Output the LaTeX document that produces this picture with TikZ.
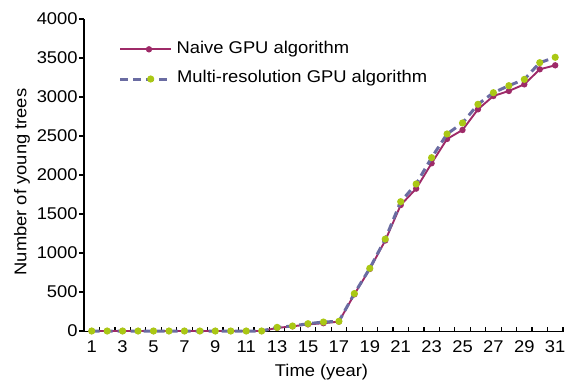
\documentclass[tikz,border=0pt]{standalone}
\usepackage{fontspec}
\setmainfont[FakeStretch=1.08]{Liberation Sans}
\definecolor{naivecol}{RGB}{158,42,104}
\definecolor{multicol}{RGB}{106,108,162}
\definecolor{markcol}{RGB}{170,200,20}
\tikzset{
  axisline/.style={line width=1.4pt, black},
  ticklab/.style={font=\fontsize{17}{18}\selectfont, inner sep=0pt},
  axlab/.style={font=\fontsize{17}{18}\selectfont, inner sep=0pt},
  naiveline/.style={naivecol, line width=1.9pt, line join=round},
  multiline/.style={multicol, line width=3pt, dash pattern=on 8pt off 5pt},
  naivemark/.style={fill=naivecol, draw=none},
  multimark/.style={fill=markcol, draw=none},
}
\begin{document}
\begin{tikzpicture}[x=1pt, y=-1pt]
\useasboundingbox (0,0) rectangle (572,383);

% axes
\draw[axisline] (84,19) -- (84,331.7) -- (563.5,331.7);
% y ticks and labels
\foreach \v [count=\i from 0] in {0,500,...,4000} {
  \pgfmathsetmacro{\yy}{331-\v*0.078}
  \draw[axisline, line width=1.2pt] (79,\yy) -- (84,\yy);
  \node[ticklab, anchor=east] (ytick\i) at (77.8,\yy) {\v};
}
% x ticks at category boundaries
\foreach \k in {0,...,31} {
  \pgfmathsetmacro{\xx}{84+\k*15.45}
  \draw[axisline, line width=1.2pt] (\xx,331.7) -- (\xx,326.5);
}
\foreach \n in {1,3,...,31} {
  \pgfmathsetmacro{\xx}{91.7+(\n-1)*15.45}
  \node[ticklab] (xtick\n) at (\xx,346.5) {\n};
}
\node[axlab] (xlabel) at (321.5,372) {Time (year)};
\node[axlab, rotate=90] (ylabel) at (22,182) {Number of young trees};

% data series: x in years, y in trees
\begin{scope}[shift={(76.25,331)}, x=15.45pt, y=0.078pt]
  \draw[naiveline] plot coordinates {
    (1,0) (2,0) (3,0) (4,0) (5,0) (6,0) (7,0) (8,0) (9,0) (10,0) (11,0) (12,0)
    (13,40) (14,60) (15,85) (16,100) (17,120) (18,470) (19,795) (20,1160)
    (21,1615) (22,1825) (23,2150) (24,2462) (25,2577) (26,2842) (27,3013)
    (28,3077) (29,3162) (30,3355) (31,3406)};
  \foreach \p in {(1,0),(2,0),(3,0),(4,0),(5,0),(6,0),(7,0),(8,0),(9,0),(10,0),(11,0),(12,0),
    (13,40),(14,60),(15,85),(16,100),(17,120),(18,470),(19,795),(20,1160),
    (21,1615),(22,1825),(23,2150),(24,2462),(25,2577),(26,2842),(27,3013),
    (28,3077),(29,3162),(30,3355),(31,3406)}
    \fill[naivemark] \p circle[radius=3.2pt];
  \draw[multiline] plot coordinates {
    (1,0) (2,0) (3,0) (4,0) (5,0) (6,0) (7,0) (8,0) (9,0) (10,0) (11,0) (12,0)
    (13,47) (14,64) (15,94) (16,115) (17,124) (18,480) (19,804) (20,1179)
    (21,1658) (22,1885) (23,2222) (24,2526) (25,2667) (26,2906) (27,3055)
    (28,3145) (29,3226) (30,3440) (31,3509)};
  \foreach \p in {(1,0),(2,0),(3,0),(4,0),(5,0),(6,0),(7,0),(8,0),(9,0),(10,0),(11,0),(12,0),
    (13,47),(14,64),(15,94),(16,115),(17,124),(18,480),(19,804),(20,1179),
    (21,1658),(22,1885),(23,2222),(24,2526),(25,2667),(26,2906),(27,3055),
    (28,3145),(29,3226),(30,3440),(31,3509)}
    \fill[multimark] \p circle[radius=3.6pt];
\end{scope}

% legend
\coordinate (la1) at (120,49.3);
\coordinate (lb1) at (171,49.3);
\coordinate (la2) at (120,79);
\coordinate (lb2) at (171,79);
\draw[naiveline] (la1) -- (lb1);
\fill[naivemark] (149,49.3) circle[radius=3.2pt];
\draw[multiline] (la2) -- (lb2);
\fill[multimark] (150.7,79) circle[radius=3.6pt];
\node[axlab, anchor=west] (leg1) at (176.5,49) {Naive GPU algorithm};
\node[axlab, anchor=west] (leg2) at (177,78.5) {Multi-resolution GPU algorithm};
\end{tikzpicture}
\end{document}
